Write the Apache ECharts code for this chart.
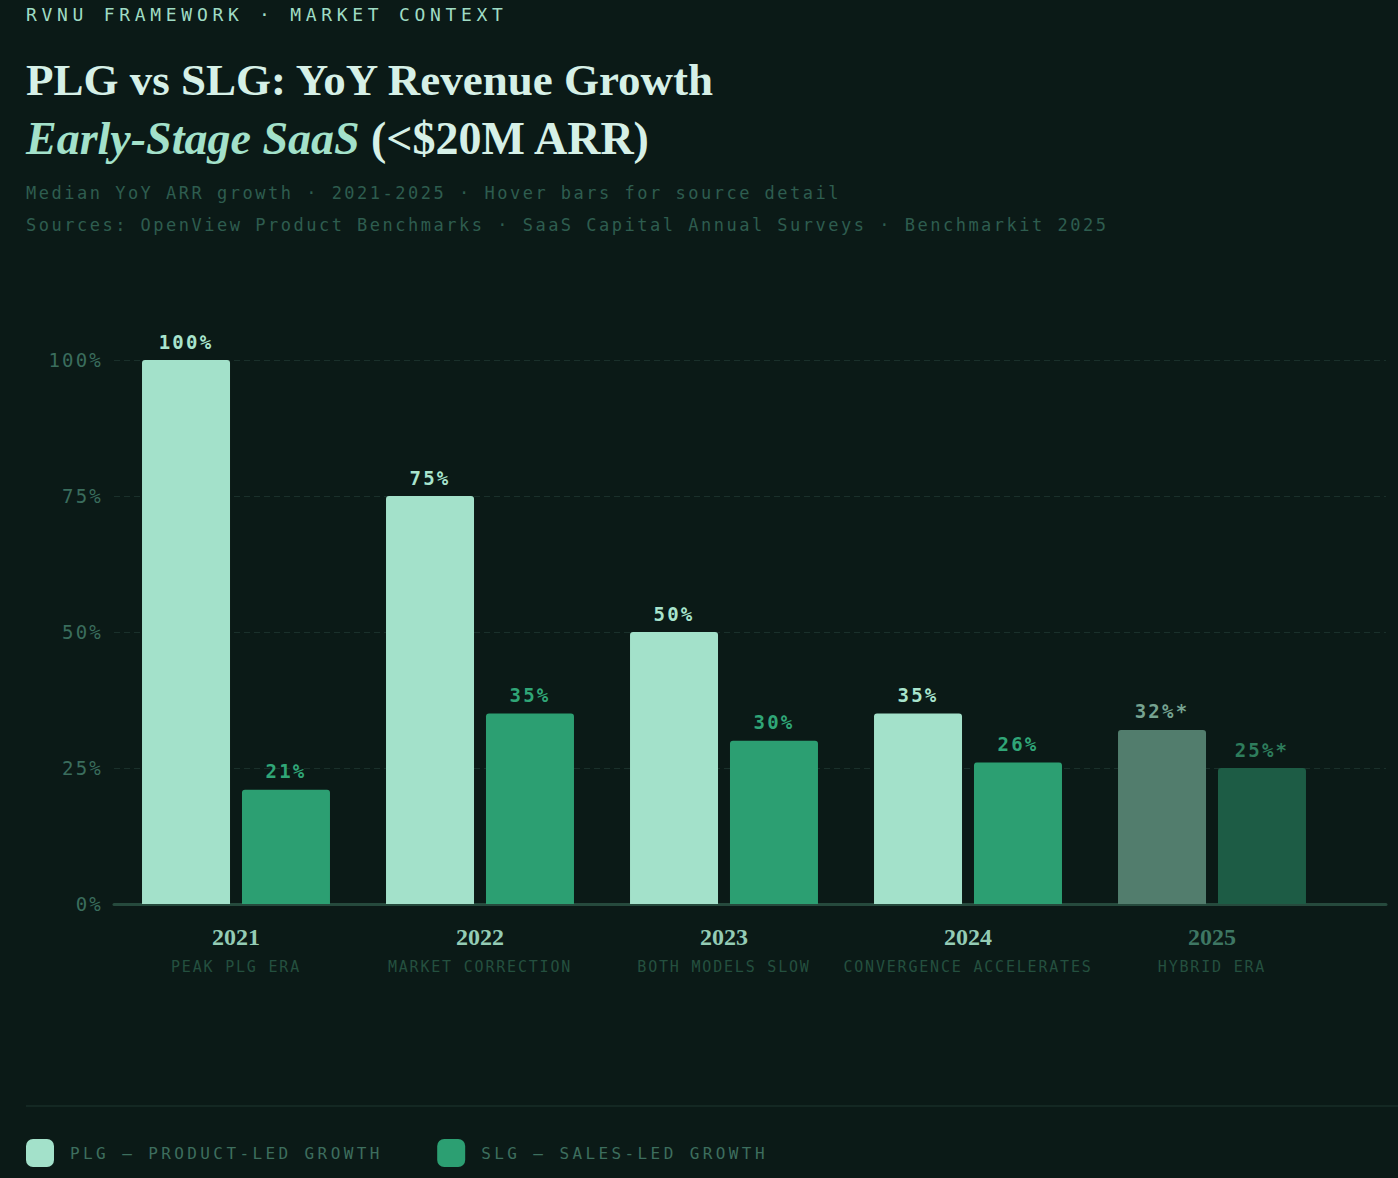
<!DOCTYPE html>
<html>
<head>
<meta charset="utf-8">
<title>PLG vs SLG: YoY Revenue Growth</title>
<script src="https://cdn.jsdelivr.net/npm/echarts@6.0.0/dist/echarts.min.js"></script>
<style>
  html, body { margin: 0; padding: 0; background: #0b1a17; }
  #chart { width: 1398px; height: 1178px; }
  /* svg renderer: spaced-out mono text, keyed by font size */
  #chart text[style*="Mono"][style*="15px"] { letter-spacing: 1.8px; }
  #chart text[style*="Mono"][style*="16px"] { letter-spacing: 3.4px; }
  #chart text[style*="Mono"][style*="17px"] { letter-spacing: 2.5px; }
  #chart text[style*="Mono"][style*="18px"] { letter-spacing: 4.7px; }
  #chart text[style*="Mono"][style*="19px"] { letter-spacing: 2.2px; }
</style>
</head>
<body>
<div id="chart"></div>
<script>
// data
const years = ['2021', '2022', '2023', '2024', '2025'];
const eras = ['PEAK PLG ERA', 'MARKET CORRECTION', 'BOTH MODELS SLOW', 'CONVERGENCE ACCELERATES', 'HYBRID ERA'];
const plg = [100, 75, 50, 35, 32];
const slg = [21, 35, 30, 26, 25];
const projected = [false, false, false, false, true];
const yTicks = [0, 25, 50, 75, 100];

const MONO = 'DejaVu Sans Mono';
const SERIF = 'Liberation Serif';

const PLG_COLOR = '#a3e1ca', PLG_DIM = '#527d6d';
const SLG_COLOR = '#2c9f72', SLG_DIM = '#1d5c45';

function barData(values, color, dim, labelColor, labelDim) {
    return values.map(function (v, i) {
        return {
            value: v,
            itemStyle: {color: projected[i] ? dim : color},
            label: {color: projected[i] ? labelDim : labelColor}
        };
    });
}

const chart = echarts.init(document.getElementById('chart'), null, {renderer: 'svg'});

const option = {
    backgroundColor: '#0b1a17',
    animation: false,
    title: [
        {
            text: 'RVNU FRAMEWORK · MARKET CONTEXT',
            left: 26, top: 4, padding: 0,
            textStyle: {fontFamily: MONO, fontSize: 18, fontWeight: 'normal', color: '#9fdcc4', lineHeight: 20}
        },
        {
            text: 'PLG vs SLG: YoY Revenue Growth',
            left: 26, top: 52, padding: 0,
            textStyle: {fontFamily: SERIF, fontSize: 45, fontWeight: 'bold', color: '#d6f0e7', lineHeight: 56}
        },
        {
            text: '{em|Early-Stage SaaS}{n| (<$20M ARR)}',
            left: 26, top: 110, padding: 0,
            textStyle: {
                lineHeight: 56,
                rich: {
                    em: {fontFamily: SERIF, fontSize: 46, fontWeight: 'bold', fontStyle: 'italic', color: '#a3e1ca', lineHeight: 56},
                    n: {fontFamily: SERIF, fontSize: 46, fontWeight: 'bold', color: '#d6f0e7', lineHeight: 56}
                }
            }
        },
        {
            text: 'Median YoY ARR growth · 2021-2025 · Hover bars for source detail',
            left: 26, top: 181, padding: 0,
            textStyle: {fontFamily: MONO, fontSize: 17, fontWeight: 'normal', color: '#2e5d4f', lineHeight: 24}
        },
        {
            text: 'Sources: OpenView Product Benchmarks · SaaS Capital Annual Surveys · Benchmarkit 2025',
            left: 26, top: 213, padding: 0,
            textStyle: {fontFamily: MONO, fontSize: 17, fontWeight: 'normal', color: '#2e5d4f', lineHeight: 24}
        }
    ],
    legend: {
        left: 26, top: 1139, padding: 0,
        selectedMode: false,
        icon: 'roundRect',
        itemWidth: 28, itemHeight: 28,
        itemGap: 136,
        textStyle: {fontFamily: MONO, fontSize: 16, color: '#3d6e5e', padding: [0, 0, 0, 11]},
        data: ['PLG — PRODUCT-LED GROWTH', 'SLG — SALES-LED GROWTH']
    },
    graphic: [
        {type: 'rect', left: 26, top: 1105, shape: {width: 1372, height: 2}, style: {fill: '#142823'}, silent: true}
    ],
    grid: [
        {left: 114, right: 12, top: 360, bottom: 274},
        {left: 114, width: 1220, top: 360, bottom: 274}
    ],
    xAxis: [
        {
            type: 'value', gridIndex: 0, min: 0, max: 1,
            axisLine: {show: true, lineStyle: {color: '#264a3d', width: 3}},
            axisTick: {show: false}, axisLabel: {show: false}, splitLine: {show: false}
        },
        {
            type: 'category', gridIndex: 1, data: years,
            axisLine: {show: false}, axisTick: {show: false},
            axisLabel: {
                interval: 0, margin: 18,
                formatter: function (value, idx) {
                    const y = projected[idx] ? 'yd' : 'y';
                    return '{' + y + '|' + value + '}\n{e|' + eras[idx] + '}';
                },
                rich: {
                    y: {fontFamily: SERIF, fontSize: 24, fontWeight: 'bold', color: '#94ccb5', lineHeight: 30, align: 'center'},
                    yd: {fontFamily: SERIF, fontSize: 24, fontWeight: 'bold', color: '#3e7763', lineHeight: 30, align: 'center'},
                    e: {fontFamily: MONO, fontSize: 15, color: '#24503f', lineHeight: 30, align: 'center'}
                }
            }
        }
    ],
    yAxis: [
        {
            type: 'value', gridIndex: 0, min: yTicks[0], max: yTicks[yTicks.length - 1], interval: 25,
            axisLine: {show: false}, axisTick: {show: false},
            axisLabel: {formatter: '{value}%', fontFamily: MONO, fontSize: 19, color: '#3a6d5d', margin: 11},
            splitLine: {lineStyle: {color: '#1a302b', type: [6, 4], width: 1}}
        },
        {
            type: 'value', gridIndex: 1, min: 0, max: 100, show: false
        }
    ],
    series: [
        {
            name: 'PLG — PRODUCT-LED GROWTH',
            type: 'bar', xAxisIndex: 1, yAxisIndex: 1,
            barWidth: 88, barGap: '13.6%',
            itemStyle: {color: PLG_COLOR, borderRadius: [3, 3, 0, 0]},
            label: {
                show: true, position: 'top', distance: 9,
                fontFamily: MONO, fontSize: 19, fontWeight: 'bold',
                formatter: function (p) { return p.value + '%' + (projected[p.dataIndex] ? '*' : ''); }
            },
            data: barData(plg, PLG_COLOR, PLG_DIM, '#a8e4cd', '#76a391')
        },
        {
            name: 'SLG — SALES-LED GROWTH',
            type: 'bar', xAxisIndex: 1, yAxisIndex: 1,
            barWidth: 88, barGap: '13.6%',
            itemStyle: {color: SLG_COLOR, borderRadius: [3, 3, 0, 0]},
            label: {
                show: true, position: 'top', distance: 9,
                fontFamily: MONO, fontSize: 19, fontWeight: 'bold',
                formatter: function (p) { return p.value + '%' + (projected[p.dataIndex] ? '*' : ''); }
            },
            data: barData(slg, SLG_COLOR, SLG_DIM, '#30a677', '#2e7d5c')
        }
    ]
};

chart.setOption(option);
</script>
</body>
</html>
